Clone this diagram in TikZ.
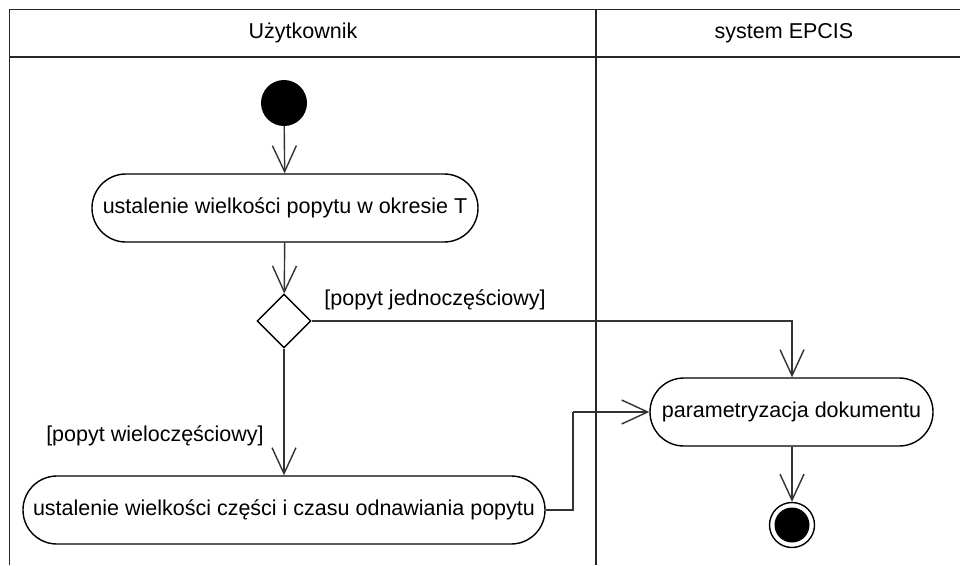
\documentclass[tikz,border=0pt]{standalone}
\usepackage{fontspec}
\setmainfont{Liberation Sans}
\usetikzlibrary{arrows.meta,shapes.geometric}
\begin{document}
\begin{tikzpicture}[x=1pt,y=-1pt,
  every node/.style={font=\fontsize{21.5}{25}\selectfont, text=black},
  lane/.style={line width=1.4pt, draw=black!85},
  activity/.style={draw, line width=1.4pt, rectangle, rounded corners=33.9pt,
    minimum height=68pt, inner sep=0pt},
  flow/.style={line width=1.4pt, draw=black!80,
    -{Straight Barb[length=26pt,width=24pt,line width=1.4pt]}},
  plain/.style={line width=1.4pt, draw=black!80},
  guard/.style={inner sep=0pt}]
\useasboundingbox (0,0) rectangle (960,565);
\fill[white] (0,0) rectangle (960,565);

% swimlanes
\draw[lane] (9.5,565) -- (9.5,9.5) -- (960,9.5);
\draw[lane] (9.5,57) -- (960,57);
\draw[lane] (596,9.5) -- (596,565);
\node (h1) at (303,33) {Użytkownik};
\node (h2) at (784,33) {system EPCIS};

% nodes
\node[circle, fill=black, minimum size=46pt, inner sep=0pt] (start) at (284,103) {};
\node[activity, minimum width=386pt] (a1) at (285,208) {ustalenie wielkości popytu w okresie T};
\node[diamond, draw, line width=1.4pt, minimum width=54pt, minimum height=54pt, inner sep=0pt] (dec) at (284,321) {};
\node[activity, minimum width=522pt] (a3) at (284,510) {ustalenie wielkości części i czasu odnawiania popytu};
\node[activity, minimum width=283pt] (a2) at (791.5,412) {parametryzacja dokumentu};
\node[circle, draw, line width=1.4pt, minimum size=45pt, inner sep=0pt] (end) at (792,525) {};
\fill[black] (end.center) circle (17.5pt);

\coordinate (c1) at (792,321);
\coordinate (c2) at (573,510);
\coordinate (c3) at (573,412);

% connectors
\draw[flow] (start) -- (a1);
\draw[flow] (a1) -- (dec);
\draw[flow] (dec) -- (a3);
\draw[flow] (dec.east) -- (c1) -- (a2.north -| c1);
\draw[plain] (a3.east) -- (c2) -- (c3);
\draw[flow] (c3) -- (a2.west);
\draw[flow] (a2.south -| end) -- (end.north);

% guards
\node[guard] (g1) at (435,300) {[popyt jednoczęściowy]};
\node[guard] (g2) at (155,436) {[popyt wieloczęściowy]};
\end{tikzpicture}
\end{document}
